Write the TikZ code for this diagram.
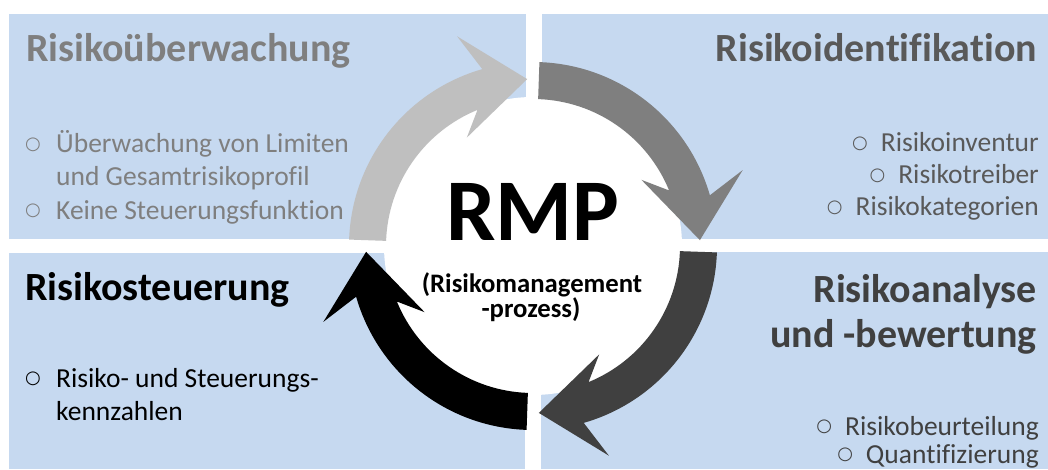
\documentclass[tikz,border=0pt]{standalone}
\usepackage{fontspec}
\setmainfont{Carlito}[Ligatures=NoCommon]
\newfontfamily\dejavu{DejaVu Sans}
\definecolor{panelblue}{HTML}{C6D9F0}
\definecolor{arrowA}{HTML}{BFBFBF}
\definecolor{arrowB}{HTML}{7F7F7F}
\definecolor{arrowC}{HTML}{404040}
\definecolor{arrowD}{HTML}{000000}
\definecolor{txtA}{HTML}{7F7F7F}
\definecolor{txtB}{HTML}{595959}
\definecolor{txtC}{HTML}{404040}
\newcommand{\bulo}{\raisebox{3.5pt}{\dejavu\fontsize{18}{18}\selectfont ○}}
\begin{document}
\begin{tikzpicture}[x=1pt,y=1pt,
  panel/.style={fill=panelblue, draw=none},
  titletext/.style={inner sep=0pt, font=\fontsize{40}{48.8}\selectfont\bfseries},
  itemtext/.style={inner sep=0pt, font=\fontsize{27.5}{33}\selectfont},
  bullet/.style={inner sep=0pt, font=\fontsize{27.5}{33}\selectfont}]
\useasboundingbox (0,0) rectangle (1048,469);
\fill[white] (0,0) rectangle (1048,469);
% panels
\path[panel] (9,230) rectangle (526,455);
\path[panel] (542,230) rectangle (1048,455);
\path[panel] (9,0) rectangle (525,216);
\path[panel] (541,0) rectangle (1048,217);
% centre disc
\coordinate (C) at (533,223);
\fill[white] (C) circle[radius=149];
% ring arrows
\foreach \rot/\col in {0/arrowA, -90/arrowB, -180/arrowC, -270/arrowD}{
  \fill[\col, shift={(C)}, rotate=\rot]
    (178:184) arc[start angle=178, end angle=106, radius=184]
    -- (109.9:223) -- (92:167) -- (121.4:127) -- (112.2:147)
    arc[start angle=112.2, end angle=178, radius=147] -- cycle;
}
% centre text
\node[inner sep=0pt, anchor=base, font=\fontsize{88}{100}\selectfont\bfseries] (rmp) at (533,229) {RMP};
\node[inner sep=0pt, anchor=base, font=\fontsize{26.7}{30}\selectfont\bfseries] (rmpa) at (532,177) {(Risikomanagement};
\node[inner sep=0pt, anchor=base, font=\fontsize{26.7}{30}\selectfont\bfseries] (rmpb) at (531,152) {-prozess)};
% top-left
\node[titletext, text=txtA, anchor=base west] (tlt) at (26,407) {Risikoüberwachung};
\node[bullet, text=txtA, anchor=base west] (tlb1) at (25,316) {\bulo};
\node[itemtext, text=txtA, anchor=base west] (tli1) at (56,316) {Überwachung von Limiten};
\node[itemtext, text=txtA, anchor=base west] (tli2) at (56,283) {und Gesamtrisikoprofil};
\node[bullet, text=txtA, anchor=base west] (tlb2) at (25,250) {\bulo};
\node[itemtext, text=txtA, anchor=base west] (tli3) at (56,250) {Keine Steuerungsfunktion};
% top-right
\node[titletext, text=txtB, anchor=base east] (trt) at (1037,407) {Risikoidentifikation};
\node[itemtext, text=txtB, anchor=base east] (tri1) at (1039,317) {\bulo\hspace{13pt}Risikoinventur};
\node[itemtext, text=txtB, anchor=base east] (tri2) at (1039,285) {\bulo\hspace{13pt}Risikotreiber};
\node[itemtext, text=txtB, anchor=base east] (tri3) at (1039,253) {\bulo\hspace{13pt}Risikokategorien};
% bottom-left
\node[titletext, text=black, anchor=base west] (blt) at (25,169) {Risikosteuerung};
\node[bullet, text=black, anchor=base west] (blb1) at (25,82) {\bulo};
\node[itemtext, text=black, anchor=base west] (bli1) at (56,82) {Risiko- und Steuerungs-};
\node[itemtext, text=black, anchor=base west] (bli2) at (56,49) {kennzahlen};
% bottom-right
\node[titletext, text=txtC, anchor=base east] (brt1) at (1037,167) {Risikoanalyse};
\node[titletext, text=txtC, anchor=base east] (brt2) at (1037,122) {und -bewertung};
\node[itemtext, text=txtC, anchor=base east] (bri1) at (1039,34) {\bulo\hspace{13pt}Risikobeurteilung};
\node[itemtext, text=txtC, anchor=base east] (bri2) at (1039,6) {\bulo\hspace{13pt}Quantifizierung};
\end{tikzpicture}
\end{document}
